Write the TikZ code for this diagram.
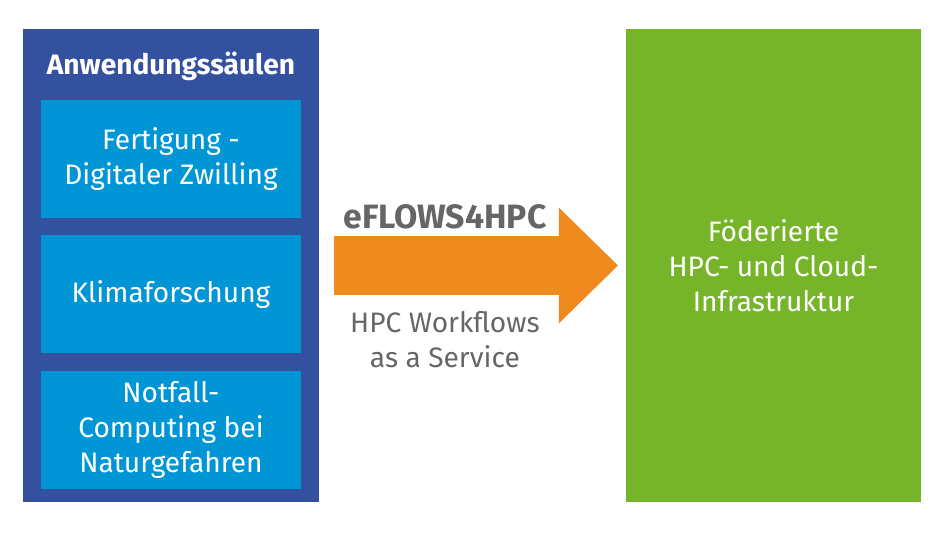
\documentclass[tikz,border=0pt]{standalone}
\usepackage{fontspec}
\setmainfont{Fira Sans}
\usetikzlibrary{arrows.meta}
\usetikzlibrary{positioning}
\definecolor{saeulenblau}{HTML}{3451A0}
\definecolor{kastenblau}{HTML}{0096D6}
\definecolor{infragruen}{HTML}{76B52A}
\definecolor{floworange}{HTML}{EE8A1E}
\definecolor{textgrau}{HTML}{666666}
\tikzstyle{saeule} = [fill=kastenblau, text=white, align=center, outer sep=0pt,
minimum width=6.5cm, minimum height=2.95cm]
\tikzstyle{flow} = [draw=floworange, line width=1.45cm,
-{Triangle[length=1.48cm, width=2.9cm, line width=0pt, fill=floworange]}]

\begin{document}
\begin{tikzpicture}[x=0.025cm, y=-0.025cm, node distance=0.44cm,
	font=\fontsize{20}{24.8}\selectfont,
	rahmen/.style={fill=saeulenblau, outer sep=0pt,
		minimum width=7.4cm, minimum height=11.8cm}]
	\useasboundingbox (0,0) rectangle (945,532);
	\node [rahmen] (block) at (171,265.5) {};
	\node [text=white, font=\fontsize{20}{24.8}\selectfont\bfseries] (titel) at (171,66) {Anwendungssäulen};
	\node [saeule] (fertigung) at (171,158.75) {Fertigung -\\Digitaler Zwilling};
	\node [saeule, below=of fertigung] (klima) {Klimaforschung};
	\node [saeule, below=of klima] (notfall) {Notfall-\\Computing bei\\Naturgefahren};
	\node [rahmen, fill=infragruen, minimum width=7.375cm, text=white, align=center] (infra) at (773.5,265.5)
		{Föderierte\\HPC- und Cloud-\\Infrastruktur};
	\coordinate [right=0.38cm of block] (von);
	\coordinate [left=0.2cm of infra] (nach);
	%% Flow
	\draw [flow] (von) -- (nach)
		node [pos=0.39, yshift=1.22cm, text=textgrau, font=\fontsize{24}{28}\selectfont\bfseries] (name) {eFLOWS4HPC}
		node [pos=0.39, yshift=-1.86cm, text=textgrau, align=center] (dienst) {HPC Workflows\\as a Service};
\end{tikzpicture}
\end{document}
